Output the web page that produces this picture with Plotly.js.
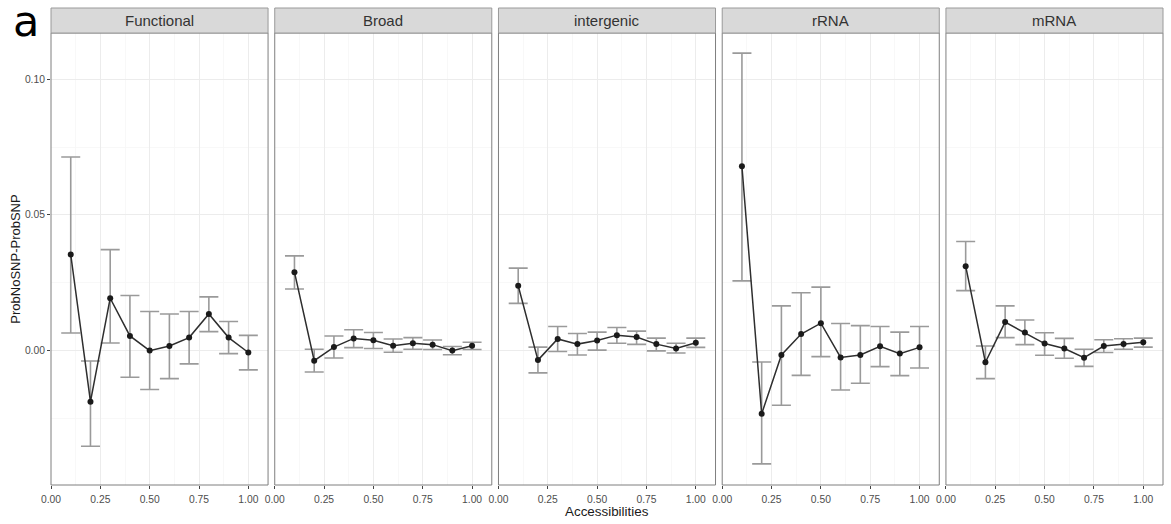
<!DOCTYPE html>
<html>
<head>
<meta charset="utf-8">
<script src="https://cdn.plot.ly/plotly-3.0.1.min.js"></script>
<style>html,body{margin:0;padding:0;background:#fff;}#chart{width:1171px;height:524px;}</style>
</head>
<body>
<div id="chart"></div>
<script>
// ---- data ----
const categories = ["Functional", "Broad", "intergenic", "rRNA", "mRNA"];
const accessibilities = [0.1, 0.2, 0.3, 0.4, 0.5, 0.6, 0.7, 0.8, 0.9, 1.0];

const functionalMean  = [0.0354, -0.0188, 0.0193, 0.0054, 0.0000, 0.0017, 0.0048, 0.0135, 0.0048, -0.0007];
const functionalLower = [0.0065, -0.0352, 0.0028, -0.0098, -0.0143, -0.0103, -0.0049, 0.0070, -0.0011, -0.0071];
const functionalUpper = [0.0713, -0.0038, 0.0372, 0.0203, 0.0144, 0.0135, 0.0144, 0.0198, 0.0107, 0.0056];

const broadMean  = [0.0289, -0.0037, 0.0013, 0.0045, 0.0038, 0.0018, 0.0027, 0.0022, 0.0000, 0.0018];
const broadLower = [0.0227, -0.0079, -0.0027, 0.0011, 0.0008, -0.0006, 0.0005, 0.0004, -0.0015, 0.0004];
const broadUpper = [0.0349, 0.0005, 0.0054, 0.0077, 0.0067, 0.0043, 0.0048, 0.0039, 0.0015, 0.0031];

const intergenicMean  = [0.0239, -0.0035, 0.0043, 0.0024, 0.0037, 0.0057, 0.0050, 0.0024, 0.0008, 0.0029];
const intergenicLower = [0.0174, -0.0082, -0.0003, -0.0016, 0.0002, 0.0027, 0.0023, -0.0001, -0.0009, 0.0012];
const intergenicUpper = [0.0304, 0.0013, 0.0089, 0.0063, 0.0068, 0.0085, 0.0072, 0.0046, 0.0027, 0.0046];

const rRNAMean  = [0.0679, -0.0233, -0.0016, 0.0061, 0.0101, -0.0025, -0.0016, 0.0016, -0.0011, 0.0012];
const rRNALower = [0.0257, -0.0417, -0.0201, -0.0091, -0.0022, -0.0145, -0.0120, -0.0059, -0.0092, -0.0064];
const rRNAUpper = [0.1096, -0.0042, 0.0165, 0.0213, 0.0234, 0.0100, 0.0092, 0.0089, 0.0068, 0.0089];

const mRNAMean  = [0.0311, -0.0043, 0.0105, 0.0067, 0.0026, 0.0008, -0.0026, 0.0017, 0.0024, 0.0031];
const mRNALower = [0.0221, -0.0103, 0.0048, 0.0022, -0.0017, -0.0028, -0.0058, -0.0007, 0.0005, 0.0013];
const mRNAUpper = [0.0402, 0.0017, 0.0165, 0.0113, 0.0066, 0.0045, 0.0005, 0.0040, 0.0044, 0.0046];

const xTickVals = [0, 0.25, 0.5, 0.75, 1.0];
const xTickText = ["0.00", "0.25", "0.50", "0.75", "1.00"];
const yTickVals = [0, 0.05, 0.10];
const yTickText = ["0.00", "0.05", "0.10"];

// ---- build ----
const series = [
  [functionalMean, functionalLower, functionalUpper],
  [broadMean, broadLower, broadUpper],
  [intergenicMean, intergenicLower, intergenicUpper],
  [rRNAMean, rRNALower, rRNAUpper],
  [mRNAMean, mRNALower, mRNAUpper]
];

const FONT = "Liberation Sans, Arial, sans-serif";
const BORDER = "#7f7f7f";
const nP = categories.length;
const gap = 0.006;
const w = (1 - gap * (nP - 1)) / nP;

const traces = [];
const layout = {
  width: 1171, height: 524,
  margin: {l: 51, r: 8, t: 33, b: 39},
  paper_bgcolor: "#ffffff",
  plot_bgcolor: "#ffffff",
  showlegend: false,
  hovermode: false,
  font: {family: FONT, color: "#4d4d4d"},
  shapes: [],
  annotations: []
};

series.forEach((s, i) => {
  const [m, lo, hi] = s;
  const xa = i === 0 ? "x" : "x" + (i + 1);
  traces.push({
    type: "scatter",
    mode: "lines+markers",
    x: accessibilities,
    y: m,
    xaxis: xa, yaxis: "y",
    line: {color: "#2e2e2e", width: 1.5},
    marker: {color: "#1a1a1a", size: 6},
    error_y: {
      type: "data", symmetric: false,
      array: m.map((v, k) => hi[k] - v),
      arrayminus: m.map((v, k) => v - lo[k]),
      color: "#9a9a9a", thickness: 1.6, width: 9.5
    },
    cliponaxis: false
  });
  const d0 = i * (w + gap), d1 = d0 + w;
  layout[i === 0 ? "xaxis" : "xaxis" + (i + 1)] = {
    domain: [d0, d1],
    anchor: "y",
    range: [0, 1.1],
    tickvals: xTickVals, ticktext: xTickText,
    ticks: "outside", ticklen: 3, tickcolor: "#444444", tickwidth: 1,
    ticklabelstandoff: 2,
    tickfont: {family: FONT, size: 10.3, color: "#4d4d4d"},
    showgrid: true, gridcolor: "#ececec", gridwidth: 1,
    minor: {dtick: 0.125, tick0: 0, showgrid: true, gridcolor: "#f6f6f6", gridwidth: 0.8},
    zeroline: false, showline: false, fixedrange: true
  };
  // panel border
  layout.shapes.push({
    type: "rect", xref: xa + " domain", yref: "y domain",
    x0: 0, x1: 1, y0: 0, y1: 1,
    line: {color: BORDER, width: 1}, fillcolor: "rgba(0,0,0,0)", layer: "above"
  });
  // strip
  layout.shapes.push({
    type: "rect", xref: "paper", yref: "paper",
    x0: d0, x1: d1, y0: 1.0, y1: 1 + 25 / 452,
    line: {color: "#9a9a9a", width: 1}, fillcolor: "#d9d9d9", layer: "above"
  });
  layout.annotations.push({
    text: categories[i], xref: "paper", yref: "paper",
    x: (d0 + d1) / 2, y: 1 + 12.5 / 452, xanchor: "center", yanchor: "middle",
    showarrow: false, font: {family: FONT, size: 15, color: "#333333"}
  });
});

layout.yaxis = {
  domain: [0, 1],
  anchor: "x",
  range: [-0.0495, 0.117],
  tickvals: yTickVals, ticktext: yTickText,
  ticks: "outside", ticklen: 3, tickcolor: "#444444",
  tickfont: {family: FONT, size: 10.3, color: "#4d4d4d"},
  showgrid: true, gridcolor: "#ececec", gridwidth: 1,
  minor: {dtick: 0.025, tick0: 0, showgrid: true, gridcolor: "#f6f6f6", gridwidth: 0.8},
  zeroline: false, showline: false, fixedrange: true,
  title: {text: "ProbNoSNP-ProbSNP", font: {family: FONT, size: 13, color: "#1a1a1a"}, standoff: 1}
};

layout.annotations.push({
  text: "Accessibilities", xref: "paper", yref: "paper",
  x: 0.5, y: -(511 - 485) / 452, xanchor: "center", yanchor: "middle",
  showarrow: false, font: {family: FONT, size: 13.4, color: "#1a1a1a"}
});
layout.annotations.push({
  text: "a", xref: "paper", yref: "paper",
  x: -40 / 1112, y: 1 + 12 / 452, xanchor: "left", yanchor: "middle",
  showarrow: false, font: {family: "DejaVu Sans", size: 43, color: "#000000"}
});

Plotly.newPlot("chart", traces, layout, {displayModeBar: false, staticPlot: true});
</script>
</body>
</html>
